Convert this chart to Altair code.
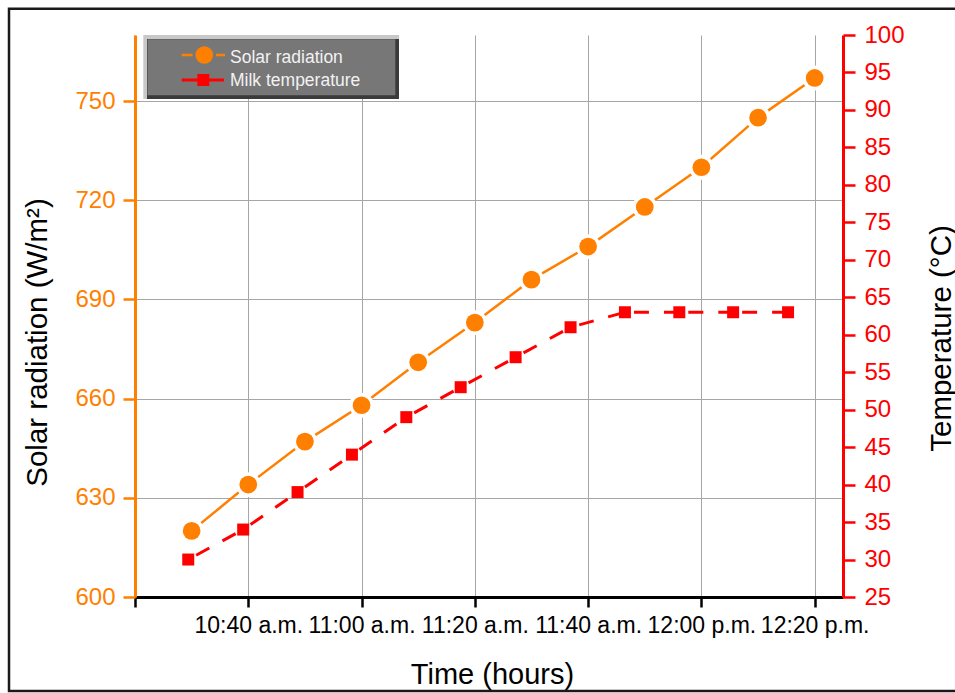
import altair as alt
import pandas as pd

# ---------------- data ----------------
solar_time = [30, 40, 50, 60, 70, 80, 90, 100, 110, 120, 130, 140]   # minutes after 10:00
solar_rad = [620, 634, 647, 658, 671, 683, 696, 706, 718, 730, 745, 757]

milk_time = [29.4, 39.1, 48.7, 58.3, 67.9, 77.5, 87.2, 96.9, 106.5, 116.1, 125.6, 135.3]
milk_temp = [30, 34, 39, 44, 49, 53, 57, 61, 63, 63, 63, 63]

x_tick_values = [20, 40, 60, 80, 100, 120, 140]
x_tick_labels = ["", "10:40 a.m.", "11:00 a.m.", "11:20 a.m.", "11:40 a.m.", "12:00 p.m.", "12:20 p.m."]
rad_ticks = [600, 630, 660, 690, 720, 750]
temp_ticks = [25, 30, 35, 40, 45, 50, 55, 60, 65, 70, 75, 80, 85, 90, 95, 100]
legend_names = ["Solar radiation", "Milk temperature"]

FONT = "Liberation Sans"
ORANGE = "#FF8000"
RED = "#FF0000"
GRID = "#a6a6a6"

solar_df = pd.DataFrame({"t": solar_time, "v": solar_rad})
milk_df = pd.DataFrame({"t": milk_time, "v": milk_temp})
seg_rows = []
for i in range(len(milk_time) - 1):
    seg_rows.append({"t": milk_time[i], "v": milk_temp[i], "seg": i, "o": 0})
    seg_rows.append({"t": milk_time[i + 1], "v": milk_temp[i + 1], "seg": i, "o": 1})
seg_df = pd.DataFrame(seg_rows)
one_row = pd.DataFrame({"k": [0]})

# label expression built from the tick lists
expr = "''"
for val, lab in reversed(list(zip(x_tick_values, x_tick_labels))):
    expr = f"datum.value == {val} ? '{lab}' : ({expr})"

x_axis = alt.Axis(
    orient="bottom", values=x_tick_values, labelExpr=expr,
    domainColor="black", domainWidth=3, tickColor="black", tickWidth=2.5, tickSize=10,
    labelColor="black", labelFont=FONT, labelFontSize=23, labelPadding=7,
    labelOverlap=False, labelFlush=False,
    grid=True, gridColor=GRID, gridWidth=1,
    title="Time (hours)", titleFont=FONT, titleFontSize=29, titleFontWeight="normal",
    titleColor="black", titleX=357, titleY=86, titleAlign="center", titleBaseline="alphabetic",
)
x_enc = alt.X("t:Q", scale=alt.Scale(domain=[20, 145], nice=False, zero=False), axis=x_axis)

left_axis = alt.Axis(
    orient="left", values=rad_ticks,
    domainColor=ORANGE, domainWidth=3, tickColor=ORANGE, tickWidth=2.5, tickSize=12,
    labelColor=ORANGE, labelFont=FONT, labelFontSize=24, labelPadding=8,
    grid=True, gridColor=GRID, gridWidth=1,
    title="Solar radiation (W/m²)", titleFont=FONT, titleFontSize=29.5, titleFontWeight="normal",
    titleColor="black", titleAngle=270, titleX=-89, titleY=307,
    titleAlign="center", titleBaseline="alphabetic",
)
right_axis = alt.Axis(
    orient="right", values=temp_ticks,
    domainColor=RED, domainWidth=3, tickColor=RED, tickWidth=2.5, tickSize=12,
    labelColor=RED, labelFont=FONT, labelFontSize=24, labelPadding=9,
    grid=False,
    title="Temperature (°C)", titleFont=FONT, titleFontSize=29.5, titleFontWeight="normal",
    titleColor="black", titleAngle=270, titleX=107, titleY=303,
    titleAlign="center", titleBaseline="alphabetic",
)
y_left = alt.Y("v:Q", scale=alt.Scale(domain=[600, 770], nice=False, zero=False), axis=left_axis)
y_right = alt.Y("v:Q", scale=alt.Scale(domain=[25, 100], nice=False, zero=False), axis=right_axis)

# ---------------- solar series ----------------
solar_line = alt.Chart(solar_df).mark_line(color=ORANGE, strokeWidth=2.5).encode(x=x_enc, y=y_left)
solar_halo = alt.Chart(solar_df).mark_circle(color="white", size=616, opacity=1).encode(x=x_enc, y=y_left)
solar_pts = alt.Chart(solar_df).mark_circle(color=ORANGE, size=314, opacity=1).encode(x=x_enc, y=y_left)
solar = alt.layer(solar_line, solar_halo, solar_pts)

# ---------------- milk series ----------------
milk_line = alt.Chart(seg_df).mark_line(
    color=RED, strokeWidth=3, strokeDash=[15, 15], strokeDashOffset=21
).encode(x=x_enc, y=y_right, detail="seg:N", order="o:Q")
milk_pts = alt.Chart(milk_df).mark_square(color=RED, size=144, opacity=1).encode(x=x_enc, y=y_right)
milk = alt.layer(milk_line, milk_pts)

# ---------------- legend box ----------------
def box(x1, x2, y1, y2, fill):
    return alt.Chart(one_row).mark_rect(fill=fill, opacity=1).encode(
        x=alt.value(x1), x2=alt.value(x2), y=alt.value(y1), y2=alt.value(y2))

leg_light = box(8.3, 264, 0, 64, "#c8c8c8")
leg_dark = box(12, 264, 4, 64, "#3a3a3a")
leg_inner = box(12.5, 260.3, 4.3, 60.3, "#777777")

leg_l1a = alt.Chart(one_row).mark_rule(color=ORANGE, strokeWidth=2.5).encode(
    x=alt.value(46.7), x2=alt.value(57.5), y=alt.value(20))
leg_l1b = alt.Chart(one_row).mark_rule(color=ORANGE, strokeWidth=2.5).encode(
    x=alt.value(81), x2=alt.value(90), y=alt.value(20))
leg_c = alt.Chart(one_row).mark_circle(color=ORANGE, size=314, opacity=1).encode(
    x=alt.value(69.3), y=alt.value(20))
leg_l2 = alt.Chart(one_row).mark_rule(color=RED, strokeWidth=3).encode(
    x=alt.value(46.7), x2=alt.value(89), y=alt.value(45))
leg_s = alt.Chart(one_row).mark_square(color=RED, size=144, opacity=1).encode(
    x=alt.value(68.3), y=alt.value(45))
leg_t1 = alt.Chart(one_row).mark_text(
    align="left", baseline="alphabetic", font=FONT, fontSize=17.5, color="#f2f2f2"
).encode(x=alt.value(95), y=alt.value(28), text=alt.value(legend_names[0]))
leg_t2 = alt.Chart(one_row).mark_text(
    align="left", baseline="alphabetic", font=FONT, fontSize=17.5, color="#f2f2f2"
).encode(x=alt.value(95), y=alt.value(51), text=alt.value(legend_names[1]))

# ---------------- outer frame ----------------
frame = alt.Chart(one_row).mark_rect(fillOpacity=0, stroke="#1a1a1a", strokeWidth=2.5).encode(
    x=alt.value(-126), x2=alt.value(822), y=alt.value(-26.3), y2=alt.value(656))

chart = alt.layer(
    solar, milk,
    leg_light, leg_dark, leg_inner, leg_l1a, leg_l1b, leg_c, leg_l2, leg_s, leg_t1, leg_t2,
    frame,
).resolve_scale(y="independent").properties(
    width=708, height=562,
    padding={"left": 135, "top": 35, "right": 112, "bottom": 96},
    autosize=alt.AutoSizeParams(type="none"),
    background="white",
).configure_view(stroke=None)

chart.save("out.html", embed_options={"renderer": "svg", "actions": False})
